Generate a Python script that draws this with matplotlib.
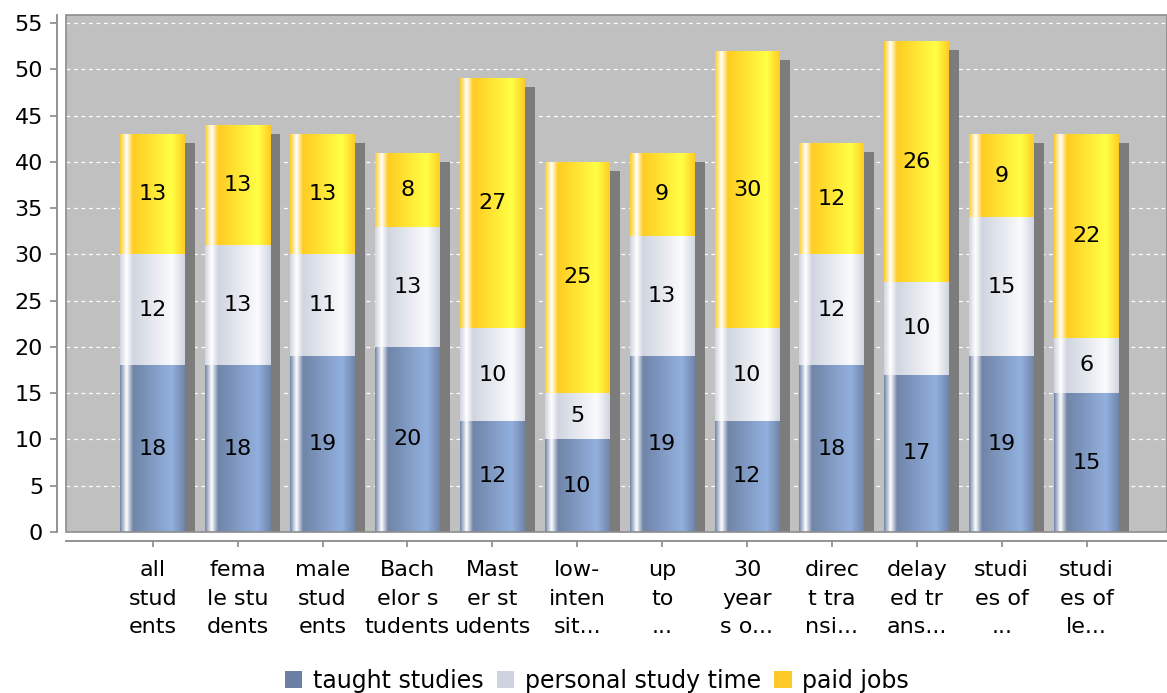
import numpy as np
import matplotlib
matplotlib.use("Agg")
import matplotlib.pyplot as plt
from matplotlib.patches import Rectangle, Patch

# Weekly hours by student group
categories = [
    "all\nstud\nents", "fema\nle stu\ndents", "male\nstud\nents",
    "Bach\nelor s\ntudents", "Mast\ner st\nudents", "low-\ninten\nsit...",
    "up\nto\n...", "30\nyear\ns o...", "direc\nt tra\nnsi...",
    "delay\ned tr\nans...", "studi\nes of\n...", "studi\nes of\nle...",
]
taught_studies = [18, 18, 19, 20, 12, 10, 19, 12, 18, 17, 19, 15]
personal_study_time = [12, 13, 11, 13, 10, 5, 13, 10, 12, 10, 15, 6]
paid_jobs = [13, 13, 13, 8, 27, 25, 9, 30, 12, 26, 9, 22]
series_names = ["taught studies", "personal study time", "paid jobs"]
y_ticks = list(range(0, 56, 5))

# base / highlight colours for each series
base_colors = [(112, 133, 168), (208, 213, 224), (255, 204, 34)]
light_colors = [(146, 176, 222), (250, 251, 253), (255, 255, 70)]
legend_colors = ["#6a7fa3", "#cdd4e0", "#ffc928"]

plt.rcParams["font.family"] = ["DejaVu Sans"]

W, H = 1167, 693
fig = plt.figure(figsize=(W / 100, H / 100), dpi=100)
fig.patch.set_facecolor("white")
ax = fig.add_axes([66 / W, 1 - 532 / H, (W - 66) / W, (532 - 15) / H])
ax.set_facecolor("#c0c0c0")

x = np.arange(len(categories))
step_px = 84.9
width = 65 / step_px
px_x = 1 / step_px  # one pixel in data units along x
px_y = 1 / 9.26     # one pixel in data units along y


def gradient_row(c0, c1, n=200):
    c0 = np.array(c0) / 255.0
    c1 = np.array(c1) / 255.0
    white = np.ones(3)
    stops = [0.0, 0.10, 0.20, 0.80, 1.0]
    cols = [c0, white, c0, c1, c0]
    t = np.linspace(0, 1, n)
    row = np.zeros((n, 3))
    for ch in range(3):
        row[:, ch] = np.interp(t, stops, [c[ch] for c in cols])
    return row[np.newaxis, :, :]


series = [taught_studies, personal_study_time, paid_jobs]

# drop shadows behind each stacked segment
bottom = np.zeros(len(x))
for vals in series:
    ax.bar(x + 10 * px_x, vals, width, bottom=bottom - 9 * px_y,
           color="#7c7c7c", zorder=2, linewidth=0)
    bottom += np.array(vals)

# gradient filled bar segments with centered value labels
bottom = np.zeros(len(x))
for vals, c0, c1 in zip(series, base_colors, light_colors):
    cont = ax.bar(x, vals, width, bottom=bottom, color="none", linewidth=0, zorder=4)
    grad = gradient_row(c0, c1)
    for patch in cont.patches:
        x0, y0 = patch.get_x(), patch.get_y()
        im = ax.imshow(grad, extent=[x0, x0 + patch.get_width(), y0, y0 + patch.get_height()],
                       aspect="auto", interpolation="bilinear", zorder=3)
        im.set_clip_path(patch)
    ax.bar_label(cont, labels=[str(v) for v in vals], label_type="center",
                 fontsize=16, color="black", zorder=6)
    bottom += np.array(vals)

left = -(152.7 - 66) / step_px
ax.set_xlim(left, left + (W - 66) / step_px)
ax.set_ylim(0, 55.86)
ax.set_aspect("auto")

# grid
ax.set_yticks(y_ticks)
ax.yaxis.grid(True, color="white", linestyle=(0, (3, 3)), linewidth=0.9, zorder=1)
ax.set_axisbelow(True)

# axes styling
for side in ["top", "right"]:
    ax.spines[side].set_visible(False)
for side in ["left", "bottom"]:
    ax.spines[side].set_position(("outward", 6.5))
    ax.spines[side].set_color("#8a8a8a")
    ax.spines[side].set_linewidth(1.3)
ax.add_patch(Rectangle((0, 0), 1, 1, transform=ax.transAxes, fill=False,
                       edgecolor="#8c8c8c", linewidth=1.2, zorder=7, clip_on=False))

ax.set_xticks(x)
ax.set_xticklabels(categories, fontsize=16, linespacing=1.52)
ax.tick_params(axis="x", length=4, width=1.2, color="#8a8a8a", pad=10)
ax.tick_params(axis="y", length=5, width=1.2, color="#8a8a8a", pad=5, labelsize=16)

handles = [Patch(facecolor=c, edgecolor="none") for c in legend_colors]
fig.legend(handles, series_names, loc="center", bbox_to_anchor=(597 / W, 1 - 681 / H),
           ncol=3, frameon=False, fontsize=17, handlelength=0.75, handleheight=0.75,
           handletextpad=0.45, columnspacing=0.55)

fig.savefig("out.png", dpi=100)
